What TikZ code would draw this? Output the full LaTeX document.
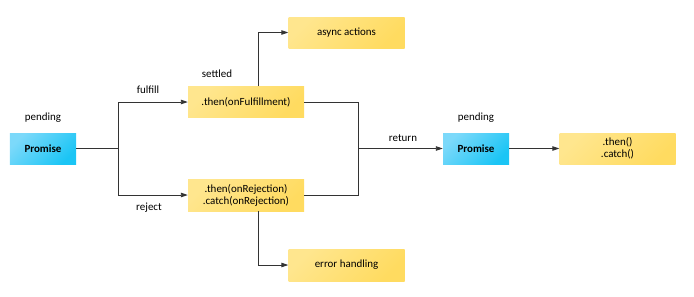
\documentclass[tikz,border=0pt]{standalone}
\usepackage{fontspec}
\setmainfont{Carlito}
\usetikzlibrary{arrows.meta,calc}
\definecolor{bluA}{HTML}{7CD9FA}
\definecolor{bluB}{HTML}{1BC5F5}
\definecolor{yelA}{HTML}{FFE68E}
\definecolor{yelB}{HTML}{FFDB60}
\definecolor{ln}{HTML}{333333}
\tikzset{
  prom/.style={minimum width=66bp,minimum height=31bp,inner sep=0pt,
    top color=bluA,bottom color=bluB,shading angle=45,font=\fontsize{11}{12}\selectfont\bfseries},
  ybox/.style={minimum width=116bp,minimum height=31bp,inner sep=0pt,
    top color=yelA,bottom color=yelB,shading angle=45,align=center,font=\fontsize{11}{12}\selectfont},
  lbl/.style={inner sep=0pt,font=\fontsize{11}{12}\selectfont},
  conn/.style={draw=ln,line width=0.9bp},
  arr/.style={conn,-{Triangle[length=7bp,width=4.5bp]}}
}
\begin{document}
\begin{tikzpicture}[x=1bp,y=-1bp]
\useasboundingbox (0,0) rectangle (694,296);
\node[prom] (p1) at (43,148.5) {Promise};
\node[lbl] (pend1) at (43,118) {pending};
\node[ybox] (f) at (246,102) {.then(onFulfillment)};
\node[ybox,minimum height=32bp] (r) at (246,195) {.then(onRejection)\\.catch(onRejection)};
\node[ybox] (async) at (346.5,32.5) {async actions};
\node[ybox,minimum height=32bp] (err) at (346.5,265) {error handling};
\node[prom] (p2) at (476,148.5) {Promise};
\node[lbl] (pend2) at (476,118) {pending};
\node[ybox] (tc) at (617.5,148.5) {.then()\\.catch()};
\node[lbl] (lf) at (148,90) {fulfill};
\node[lbl] (lr) at (149,208) {reject};
\node[lbl] (ls) at (217,74) {settled};
\node[lbl] (lret) at (403,138) {return};
\coordinate (j1) at (118,148.5);
\coordinate (j2) at (358,148.5);
\draw[conn] (p1.east) -- (j1);
\draw[arr] (j1) |- (f.west);
\draw[arr] (j1) |- (r.west);
\draw[arr] ([xshift=12bp]f.north) |- (async.west);
\draw[arr] ([xshift=12bp]r.south) |- (err.west);
\draw[conn] (f.east) -| (j2);
\draw[conn] (r.east) -| (j2);
\draw[arr] (j2) -- (p2.west);
\draw[arr] (p2.east) -- (tc.west);
\end{tikzpicture}
\end{document}
